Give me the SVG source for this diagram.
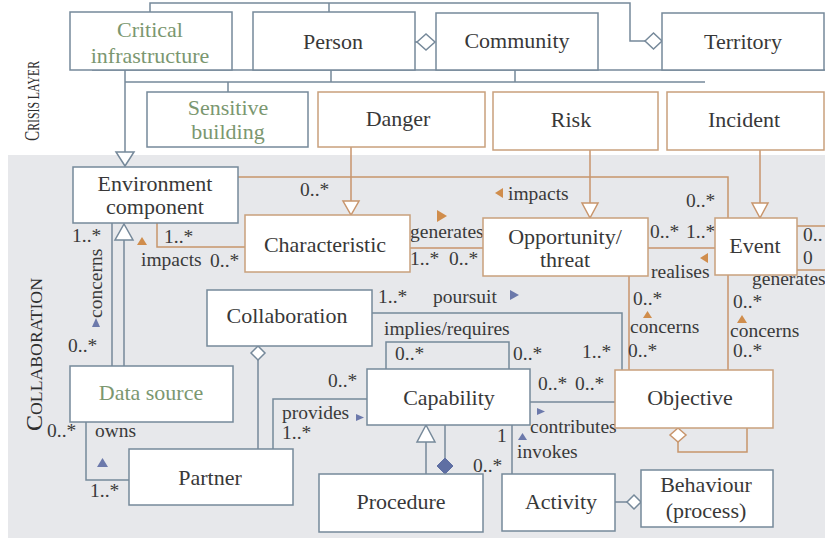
<svg xmlns="http://www.w3.org/2000/svg" width="825" height="542" viewBox="0 0 825 542">
<style>
.bg{fill:#e7e8eb}
.nb{fill:#fff;stroke:#76899a;stroke-width:1.5}
.no{fill:#fff;stroke:#c9a07c;stroke-width:1.5}
.t{font-family:"Liberation Serif","Times New Roman",serif;font-size:22px;fill:#383838;text-anchor:middle}
.g{fill:#7b9770}
.l{font-family:"Liberation Serif","Times New Roman",serif;font-size:19.5px;fill:#3a3a3a}
.cap{font-family:"Liberation Serif","Times New Roman",serif;fill:#2e2e2e}
.cb{fill:none;stroke:#76899a;stroke-width:1.5}
.co{fill:none;stroke:#c8956c;stroke-width:1.5}
.ob{fill:#fff;stroke:#76899a;stroke-width:1.5}
.oo{fill:#fff;stroke:#c8956c;stroke-width:1.5}
.fb{fill:#5f6fa3;stroke:#5f6fa3;stroke-width:1}
.ab{fill:#6c79ab}
.ao{fill:#d08d4c}
</style>
<rect x="0" y="0" width="825" height="542" fill="#fff"/>
<rect class="bg" x="8" y="155" width="817" height="383"/>

<g id="layer-labels">
<text class="cap" transform="translate(39,141) rotate(-90)" textLength="80" lengthAdjust="spacingAndGlyphs"><tspan font-size="22">C</tspan><tspan font-size="17">RISIS LAYER</tspan></text>
<text class="cap" transform="translate(42,431) rotate(-90)" textLength="153" lengthAdjust="spacingAndGlyphs"><tspan font-size="23">C</tspan><tspan font-size="17">OLLABORATION</tspan></text>
</g>

<g id="connectors">
<!-- crisis layer -->
<path class="cb" d="M150,12 V3 H630 V41 H645"/>
<polygon class="ob" points="645,41 653.5,33 662,41 653.5,49"/>
<path class="cb" d="M329,3 V12"/>
<path class="cb" d="M415,42 H417"/>
<polygon class="ob" points="417,42 426,34 435,42 426,50"/>
<path class="cb" d="M92,70 H825"/>
<path class="cb" d="M125,70 V152"/>
<polygon class="ob" points="116,152 134,152 125,166"/>
<path class="cb" d="M125,82 H705 M228,82 V92 M331,70 V82 M515,70 V82"/>
<path class="co" d="M351,147 V201"/>
<polygon class="oo" points="343,201 359,201 351,215"/>
<path class="co" d="M590,150 V203"/>
<polygon class="oo" points="582,203 598,203 590,218"/>
<path class="co" d="M760,150 V203"/>
<polygon class="oo" points="752,203 768,203 760,218"/>
<!-- collaboration layer -->
<path class="co" d="M238,177 H728 V218"/>
<path class="co" d="M157,223 V247 H245"/>
<path class="cb" d="M112,223 V366"/>
<path class="cb" d="M124,366 V240"/>
<polygon class="ob" points="115,240 133,240 124,224"/>
<path class="cb" d="M86,422 V480 H129"/>
<path class="cb" d="M258,360 V449"/>
<polygon class="ob" points="258,346 265,353 258,360 251,353"/>
<path class="cb" d="M273,449 V399 H367"/>
<path class="cb" d="M372,313 H622 V370"/>
<path class="cb" d="M386,369 V342 H509 V369"/>
<path class="cb" d="M530,402 H615"/>
<path class="cb" d="M426,442 V474"/>
<polygon class="ob" points="417,442 435,442 426,425"/>
<path class="cb" d="M445,425 V458"/>
<polygon class="fb" points="445,458 453,466 445,474 437,466"/>
<path class="cb" d="M512,425 V474"/>
<path class="cb" d="M615,502 H627"/>
<polygon class="ob" points="627,502 634,495 641,502 634,509"/>
<path class="co" d="M629,276 V370"/>
<path class="co" d="M728,275 V370"/>
<path class="co" d="M410,248 H483"/>
<path class="co" d="M648,248 H715"/>
<path class="co" d="M797,226 H825 M797,270 H825"/>
<path class="co" d="M678,442 V452 H747 V428"/>
<polygon class="oo" points="678,428 686,435 678,442 670,435"/>
<!-- direction marks -->
<polygon class="ao" points="495,193 503,188 503,198"/>
<polygon class="ao" points="137,245 142,237 147,245"/>
<polygon class="ao" points="437,210 447,216 437,222"/>
<polygon class="ao" points="700,258 708,253 708,263"/>
<polygon class="ao" points="643,318 647.5,311 652,318"/>
<polygon class="ao" points="737,323 742,315 747,323"/>
<polygon class="ab" points="92,327 96,318 100,327"/>
<polygon class="ab" points="97,467 102.5,458 108,467"/>
<polygon class="ab" points="356,414 364,417.5 356,421"/>
<polygon class="ab" points="510,290 519,295 510,300"/>
<polygon class="ab" points="537,408 545,411.5 537,415"/>
<polygon class="ab" points="518,440 522.5,433 527,440"/>
<!-- labels -->
<text class="l" x="300" y="196">0..*</text>
<text class="l" x="508" y="200">impacts</text>
<text class="l" x="686" y="207">0..*</text>
<text class="l" x="72" y="242">1..*</text>
<text class="l" x="164" y="243">1..*</text>
<text class="l" x="141" y="266">impacts</text>
<text class="l" x="210" y="267">0..*</text>
<text class="l" transform="translate(102,318) rotate(-90)">concerns</text>
<text class="l" x="68" y="352">0..*</text>
<text class="l" x="47" y="437">0..*</text>
<text class="l" x="95" y="437">owns</text>
<text class="l" x="90" y="497">1..*</text>
<text class="l" x="282" y="419">provides</text>
<text class="l" x="282" y="439">1..*</text>
<text class="l" x="328" y="387">0..*</text>
<text class="l" x="378" y="303">1..*</text>
<text class="l" x="433" y="303">poursuit</text>
<text class="l" x="384" y="335">implies/requires</text>
<text class="l" x="395" y="360">0..*</text>
<text class="l" x="513" y="360">0..*</text>
<text class="l" x="582" y="358">1..*</text>
<text class="l" x="538" y="390">0..*</text>
<text class="l" x="575" y="390">0..*</text>
<text class="l" x="530" y="433">contributes</text>
<text class="l" x="497" y="442">1</text>
<text class="l" x="517" y="458">invokes</text>
<text class="l" x="473" y="472">0..*</text>
<text class="l" x="633" y="305">0..*</text>
<text class="l" x="630" y="333">concerns</text>
<text class="l" x="628" y="357">0..*</text>
<text class="l" x="733" y="308">0..*</text>
<text class="l" x="730" y="337">concerns</text>
<text class="l" x="733" y="357">0..*</text>
<text class="l" x="650" y="238">0..*</text>
<text class="l" x="686" y="238">1..*</text>
<text class="l" x="651" y="278">realises</text>
<text class="l" x="410" y="238">generates</text>
<text class="l" x="410" y="265">1..*</text>
<text class="l" x="449" y="265">0..*</text>
<text class="l" x="803" y="241">0..</text>
<text class="l" x="803" y="264">0</text>
<text class="l" x="752" y="285">generates</text>
</g>

<g id="critical-infrastructure"><rect class="nb" x="70" y="12" width="162" height="58"/><text class="t g" x="150" y="37">Critical</text><text class="t g" x="150" y="63">infrastructure</text></g>
<g id="person"><rect class="nb" x="253" y="12" width="162" height="58"/><text class="t" x="333" y="49">Person</text></g>
<g id="community"><rect class="nb" x="436" y="13" width="162" height="57"/><text class="t" x="517" y="48">Community</text></g>
<g id="territory"><rect class="nb" x="662" y="13" width="162" height="57"/><text class="t" x="743" y="49">Territory</text></g>
<g id="sensitive-building"><rect class="nb" x="147" y="92" width="161" height="55"/><text class="t g" x="228" y="115">Sensitive</text><text class="t g" x="228" y="139">building</text></g>
<g id="danger"><rect class="no" x="318" y="92" width="167" height="55"/><text class="t" x="398" y="126">Danger</text></g>
<g id="risk"><rect class="no" x="493" y="92" width="165" height="58"/><text class="t" x="571" y="127">Risk</text></g>
<g id="incident"><rect class="no" x="667" y="92" width="157" height="58"/><text class="t" x="744" y="127">Incident</text></g>

<g id="environment-component"><rect class="nb" x="73" y="167" width="165" height="56"/><text class="t" x="155" y="191">Environment</text><text class="t" x="155" y="214">component</text></g>
<g id="characteristic"><rect class="no" x="245" y="215" width="165" height="57"/><text class="t" x="325" y="252">Characteristic</text></g>
<g id="opportunity-threat"><rect class="no" x="483" y="218" width="165" height="58"/><text class="t" x="565" y="244">Opportunity/</text><text class="t" x="565" y="267">threat</text></g>
<g id="event"><rect class="no" x="715" y="218" width="82" height="57"/><text class="t" x="755" y="253">Event</text></g>
<g id="collaboration"><rect class="nb" x="207" y="290" width="165" height="56"/><text class="t" x="287" y="323">Collaboration</text></g>
<g id="data-source"><rect class="nb" x="70" y="366" width="163" height="56"/><text class="t g" x="151" y="400">Data source</text></g>
<g id="partner"><rect class="nb" x="129" y="449" width="164" height="56"/><text class="t" x="210" y="485">Partner</text></g>
<g id="capability"><rect class="nb" x="367" y="369" width="163" height="56"/><text class="t" x="449" y="405">Capability</text></g>
<g id="objective"><rect class="no" x="615" y="370" width="158" height="58"/><text class="t" x="690" y="405">Objective</text></g>
<g id="procedure"><rect class="nb" x="319" y="474" width="164" height="58"/><text class="t" x="401" y="509">Procedure</text></g>
<g id="activity"><rect class="nb" x="502" y="474" width="113" height="57"/><text class="t" x="561" y="509">Activity</text></g>
<g id="behaviour"><rect class="nb" x="641" y="470" width="132" height="57"/><text class="t" x="706" y="492">Behaviour</text><text class="t" x="706" y="518">(process)</text></g>
</svg>
